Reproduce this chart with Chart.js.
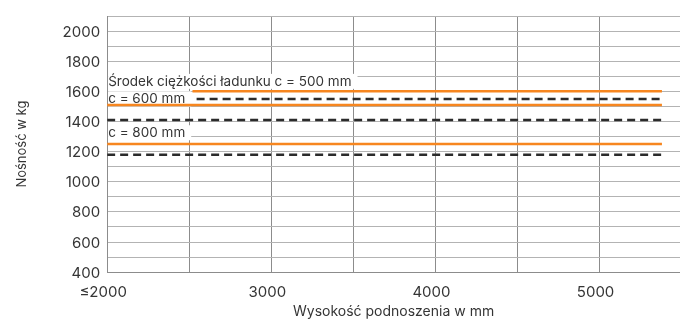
<!DOCTYPE html>
<html>
<head>
<meta charset="utf-8">
<script src="https://cdn.jsdelivr.net/npm/chart.js@4/dist/chart.umd.min.js"></script>
<style>
  html, body { margin: 0; padding: 0; background: #fff; }
  #wrap { width: 680px; height: 320px; position: relative; }
</style>
</head>
<body>
<div id="wrap"><canvas id="chart"></canvas></div>
<script>
// load centre labels and capacities (kg)
const loadCentreLabels = ['Środek ciężkości ładunku c = 500 mm', 'c = 600 mm', 'c = 800 mm'];
const labelLevels = [1663, 1547, 1322];
const solidLevels = [1600, 1510, 1250];
const dashedLevels = [1550, 1410, 1180];
const solidStarts = [2520, 2000, 2000];
const dashedStarts = [2545, 2000, 2000];
const liftEnd = 5380;
const xGridValues = [2000, 2500, 3000, 3500, 4000, 4500, 5000];
const xTickLabels = { 2000: '≤2000', 3000: '3000', 4000: '4000', 5000: '5000' };

const orange = '#f7861f';
const dark = '#2b2b2b';
const textColor = '#353535';
const fontFamily = 'Inter, sans-serif';

const datasets = [];
solidLevels.forEach((lvl, i) => {
    datasets.push({
        data: [{ x: solidStarts[i], y: lvl }, { x: liftEnd, y: lvl }],
        borderColor: orange,
        borderWidth: 2.5,
        pointRadius: 0
    });
    datasets.push({
        data: [{ x: dashedStarts[i], y: dashedLevels[i] }, { x: liftEnd, y: dashedLevels[i] }],
        borderColor: dark,
        borderWidth: 2.5,
        borderDash: [8, 5],
        pointRadius: 0
    });
});

// white boxes with the c = ... labels, they hide the grid behind them
const labelBoxes = {
    id: 'labelBoxes',
    beforeDatasetsDraw(chart) {
        const { ctx, chartArea, scales } = chart;
        ctx.save();
        ctx.font = '13.5px ' + fontFamily;
        ctx.textBaseline = 'middle';
        loadCentreLabels.forEach((txt, i) => {
            const y = scales.y.getPixelForValue(labelLevels[i]);
            const w = ctx.measureText(txt).width;
            ctx.fillStyle = '#fff';
            ctx.fillRect(chartArea.left + 1, y - 8, w + 6, 15);
            ctx.fillStyle = textColor;
            ctx.fillText(txt, chartArea.left + 1, y);
        });
        ctx.restore();
    }
};

new Chart(document.getElementById('chart').getContext('2d'), {
    type: 'line',
    data: { datasets: datasets },
    options: {
        responsive: true,
        maintainAspectRatio: false,
        animation: false,
        layout: { padding: { top: 7, right: 0, left: 14, bottom: 0 } },
        plugins: { legend: { display: false }, tooltip: { enabled: false } },
        scales: {
            x: {
                type: 'linear',
                min: 2000,
                max: 5490,
                afterBuildTicks: (scale) => {
                    scale.ticks = xGridValues.map(v => ({ value: v }));
                },
                grid: { color: '#8c8c8c', drawTicks: false },
                border: { color: '#8c8c8c' },
                ticks: {
                    padding: 11.5,
                    labelOffset: -4,
                    maxRotation: 0,
                    autoSkip: false,
                    color: textColor,
                    font: { family: fontFamily, size: 15 },
                    callback: (v) => xTickLabels[v] || ''
                },
                title: {
                    display: true,
                    text: 'Wysokość podnoszenia w mm',
                    color: textColor,
                    font: { family: fontFamily, size: 14 },
                    padding: { top: -10, bottom: 0 }
                }
            },
            y: {
                min: 400,
                max: 2100,
                grid: { color: '#b3b3b3', drawTicks: false },
                border: { color: '#8c8c8c' },
                ticks: {
                    stepSize: 100,
                    padding: 7,
                    labelOffset: 1,
                    autoSkip: false,
                    color: textColor,
                    font: { family: fontFamily, size: 15 },
                    callback: (v) => (v % 200 === 0 && v <= 2000) ? v : ''
                },
                title: {
                    display: true,
                    text: 'Nośność w kg',
                    color: textColor,
                    font: { family: fontFamily, size: 13 },
                    padding: { top: 0, bottom: 26 }
                }
            }
        }
    },
    plugins: [labelBoxes]
});
</script>
</body>
</html>
